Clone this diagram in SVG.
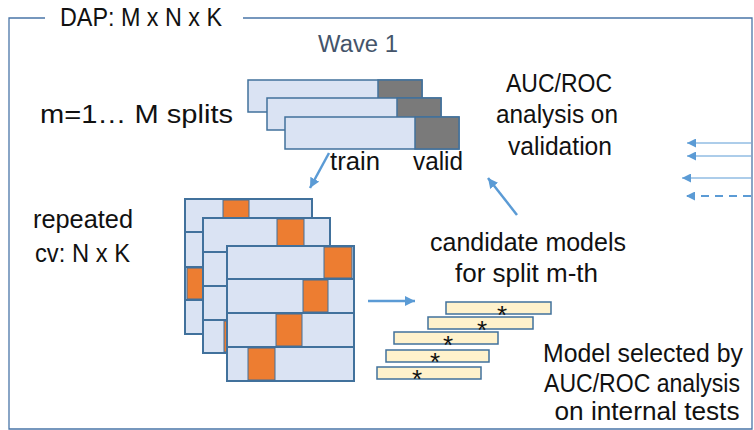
<svg xmlns="http://www.w3.org/2000/svg" width="754" height="430" viewBox="0 0 754 430">
  <style>
    text { font-family: "Liberation Sans", Arial, sans-serif; fill: #111111; font-size: 26px; }
    .wave { fill: #44546a; font-size: 23px; }
    .sel { font-size: 25px; }
    .bar { fill: #dae3f3; stroke: #41719c; stroke-width: 1.5; }
    .val { fill: #7a7a7a; stroke: #41719c; stroke-width: 1.5; }
    .row { fill: #dae3f3; stroke: #41719c; stroke-width: 2; }
    .fold { fill: #ed7d31; stroke: #41719c; stroke-width: 1; }
    .model { fill: #fff2cc; stroke: #41719c; stroke-width: 1.5; }
    .star { font-size: 26px; text-anchor: middle; }
    .conn { stroke: #5b9bd5; stroke-width: 2.5; fill: none; }
    .thin { stroke: #5b9bd5; stroke-width: 1; fill: none; }
    .dash { stroke: #5b9bd5; stroke-width: 2; fill: none; stroke-dasharray: 8 6; }
    .frame { stroke: #4a76a8; stroke-width: 1.3; fill: none; }
  </style>
  <defs>
    <marker id="ah" viewBox="0 0 10 10" refX="10" refY="5" markerWidth="10" markerHeight="10" markerUnits="userSpaceOnUse" orient="auto">
      <path d="M0,0 L10,5 L0,10 Z" fill="#5b9bd5"/>
    </marker>
    <marker id="ahs" viewBox="0 0 10 10" refX="10" refY="5" markerWidth="9" markerHeight="9" markerUnits="userSpaceOnUse" orient="auto">
      <path d="M0,0 L10,5 L0,10 Z" fill="#5b9bd5"/>
    </marker>
  </defs>

  <g id="frame">
    <path class="frame" d="M45,18 H9 V429 H752 V18 H243"/>
    <text x="60" y="26" textLength="162" lengthAdjust="spacingAndGlyphs" font-size="25">DAP: M x N x K</text>
  </g>

  <g id="wave-label">
    <text class="wave" x="318" y="52" textLength="80" lengthAdjust="spacingAndGlyphs">Wave 1</text>
  </g>

  <g id="splits">
    <text x="40" y="123" textLength="193" lengthAdjust="spacingAndGlyphs">m=1… M splits</text>
    <rect class="bar" x="248" y="80" width="174" height="32"/>
    <rect class="val" x="378" y="80" width="44" height="32"/>
    <rect class="bar" x="267" y="98" width="174" height="32"/>
    <rect class="val" x="397" y="98" width="44" height="32"/>
    <rect class="bar" x="285" y="117" width="174" height="32"/>
    <rect class="val" x="415" y="117" width="44" height="32"/>
    <text x="330" y="170" textLength="50" lengthAdjust="spacingAndGlyphs">train</text>
    <text x="413" y="170" textLength="50" lengthAdjust="spacingAndGlyphs">valid</text>
  </g>

  <g id="auc-validation">
    <text x="559" y="92" text-anchor="middle" textLength="106" lengthAdjust="spacingAndGlyphs">AUC/ROC</text>
    <text x="557" y="123" text-anchor="middle" textLength="122" lengthAdjust="spacingAndGlyphs">analysis on</text>
    <text x="560" y="155" text-anchor="middle" textLength="104" lengthAdjust="spacingAndGlyphs">validation</text>
  </g>

  <g id="repeated-cv">
    <text x="33" y="228" textLength="100" lengthAdjust="spacingAndGlyphs">repeated</text>
    <text x="35" y="262" textLength="95" lengthAdjust="spacingAndGlyphs">cv: N x K</text>
    <!-- back grid -->
    <rect class="row" x="185" y="199" width="127" height="33"/>
    <rect class="row" x="185" y="232" width="127" height="35"/>
    <rect class="row" x="185" y="267" width="127" height="33"/>
    <rect class="row" x="185" y="300" width="127" height="34"/>
    <rect class="fold" x="223" y="200" width="26" height="31"/>
    <rect class="fold" x="187" y="268" width="26" height="31"/>
    <!-- middle grid -->
    <rect class="row" x="203" y="218" width="127" height="34"/>
    <rect class="row" x="203" y="252" width="127" height="34"/>
    <rect class="row" x="203" y="286" width="127" height="34"/>
    <rect class="row" x="203" y="320" width="127" height="33"/>
    <rect class="fold" x="277" y="219" width="27" height="32"/>
    <rect class="fold" x="224" y="321" width="26" height="31"/>
    <!-- front grid -->
    <rect class="row" x="227" y="246" width="127" height="33"/>
    <rect class="row" x="227" y="279" width="127" height="34"/>
    <rect class="row" x="227" y="313" width="127" height="34"/>
    <rect class="row" x="227" y="347" width="127" height="34"/>
    <rect class="fold" x="324" y="247" width="28" height="31"/>
    <rect class="fold" x="303" y="280" width="25" height="32"/>
    <rect class="fold" x="276" y="314" width="26" height="32"/>
    <rect class="fold" x="248" y="348" width="27" height="32"/>
  </g>

  <g id="candidates">
    <text x="430" y="251" textLength="196" lengthAdjust="spacingAndGlyphs">candidate models</text>
    <text x="455" y="282" textLength="143" lengthAdjust="spacingAndGlyphs">for split m-th</text>
    <rect class="model" x="446" y="302" width="105" height="12"/>
    <rect class="model" x="428" y="317" width="105" height="12"/>
    <rect class="model" x="394" y="332" width="104" height="12"/>
    <rect class="model" x="386" y="350" width="103" height="12"/>
    <rect class="model" x="377" y="367" width="104" height="12"/>
    <text class="star" x="502" y="324">*</text>
    <text class="star" x="482" y="339">*</text>
    <text class="star" x="448" y="354">*</text>
    <text class="star" x="435" y="371">*</text>
    <text class="star" x="417" y="388">*</text>
  </g>

  <g id="selection">
    <text class="sel" x="643" y="362" text-anchor="middle" textLength="200" lengthAdjust="spacingAndGlyphs">Model selected by</text>
    <text class="sel" x="642" y="392" text-anchor="middle" textLength="196" lengthAdjust="spacingAndGlyphs">AUC/ROC analysis</text>
    <text class="sel" x="647" y="420" text-anchor="middle" textLength="185" lengthAdjust="spacingAndGlyphs">on internal tests</text>
  </g>

  <g id="connectors">
    <line class="conn" x1="329" y1="153" x2="310" y2="188" marker-end="url(#ah)"/>
    <line class="conn" x1="368" y1="301" x2="415" y2="301" marker-end="url(#ah)"/>
    <line class="conn" x1="517" y1="215" x2="488" y2="178" marker-end="url(#ah)"/>
    <line class="thin" x1="751" y1="143" x2="687" y2="143" marker-end="url(#ahs)"/>
    <line class="thin" x1="751" y1="156" x2="687" y2="156" marker-end="url(#ahs)"/>
    <line class="thin" x1="751" y1="178" x2="682" y2="178" marker-end="url(#ahs)"/>
    <line class="dash" x1="751" y1="196" x2="686" y2="196" marker-end="url(#ahs)"/>
  </g>
</svg>
